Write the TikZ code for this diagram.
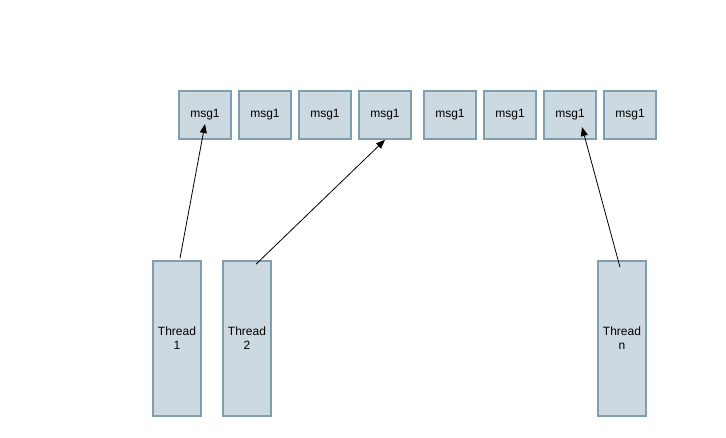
\documentclass[tikz,border=0pt]{standalone}
\usepackage{fontspec}
\setmainfont{Liberation Sans}
\usetikzlibrary{arrows.meta,calc}
\definecolor{boxfill}{HTML}{CDD9E0}
\definecolor{boxline}{HTML}{7F9FB0}
\tikzset{
  box/.style={draw=boxline, fill=boxfill, line width=1.6pt, inner sep=0pt, font=\fontsize{12}{14}\selectfont, text=black},
  msgbox/.style={box, minimum width=52pt, minimum height=48pt},
  thrbox/.style={box, minimum width=48pt, minimum height=155pt, align=center},
  arr/.style={draw=black, line width=0.8pt, -{Triangle[length=9pt,width=7pt]}}
}
\begin{document}
\begin{tikzpicture}[x=1pt,y=-1pt]
\useasboundingbox[fill=white] (0,0) rectangle (726,437);
\node[msgbox] (m1) at (205,115) {msg1};
\node[msgbox] (m2) at (265,115) {msg1};
\node[msgbox] (m3) at (325,115) {msg1};
\node[msgbox] (m4) at (385,115) {msg1};
\node[msgbox] (m5) at (450,115) {msg1};
\node[msgbox] (m6) at (510,115) {msg1};
\node[msgbox] (m7) at (570,115) {msg1};
\node[msgbox] (m8) at (630,115) {msg1};
\node[thrbox] (t1) at (177,338.5) {Thread\\1};
\node[thrbox] (t2) at (247,338.5) {Thread\\2};
\node[thrbox] (tn) at (622,338.5) {Thread\\n};
\draw[arr] ($(t1.north)+(3,-2)$) -- ($(m1.center)+(0,9)$);
\draw[arr] ($(t2.north)+(9,4)$) -- (m4.south);
\draw[arr] ($(tn.north)+(-2,7)$) -- ($(m7.center)+(12,12)$);
\end{tikzpicture}
\end{document}
